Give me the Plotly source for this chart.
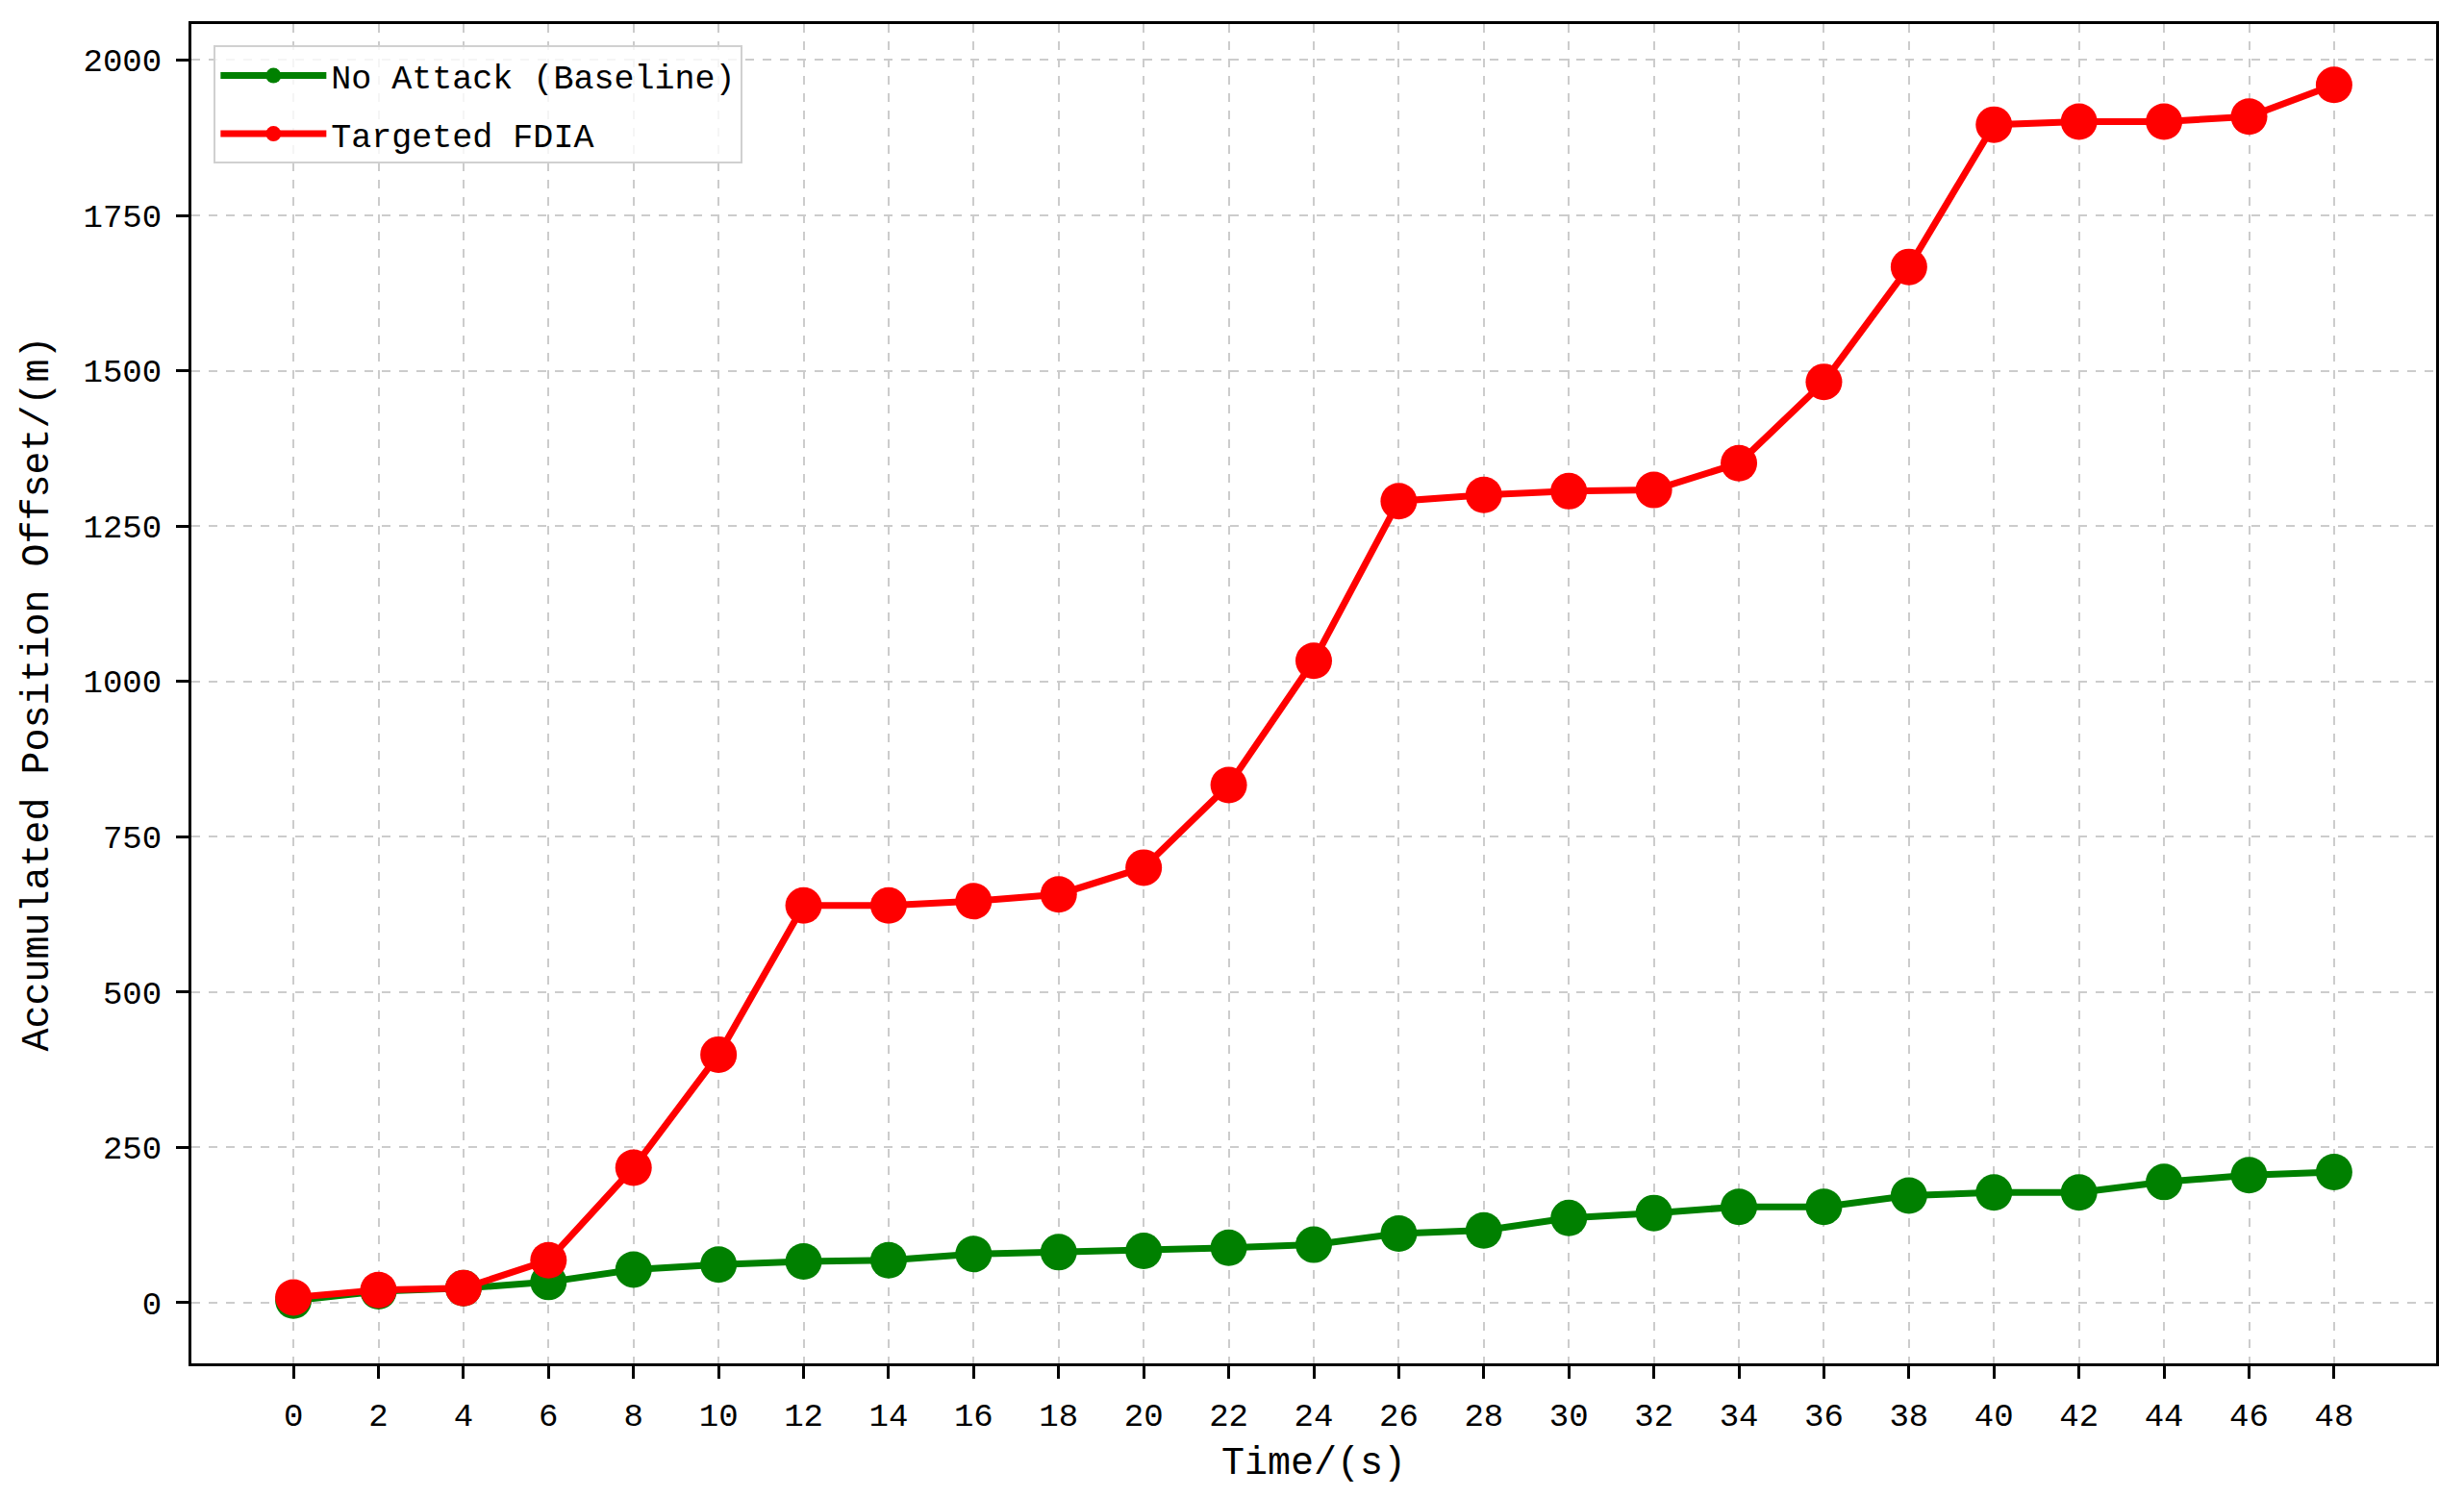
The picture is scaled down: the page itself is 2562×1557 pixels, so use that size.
import plotly.graph_objects as go

# ── Data ────────────────────────────────────────────────────
time_s = [0, 2, 4, 6, 8, 10, 12, 14, 16, 18, 20, 22, 24,
          26, 28, 30, 32, 34, 36, 38, 40, 42, 44, 46, 48]

no_attack = [3, 18, 23, 33, 53, 61, 66, 68, 78, 81, 83, 88, 93,
             111, 116, 136, 144, 154, 154, 172, 177, 177, 194, 205, 210]

targeted_fdia = [8, 20, 23, 68, 217, 399, 639, 639, 646, 657, 700, 833, 1033,
                 1290, 1300, 1306, 1308, 1351, 1482, 1667, 1896, 1901, 1901, 1909, 1960]

y_ticks = [0, 250, 500, 750, 1000, 1250, 1500, 1750, 2000]

FONT = "Liberation Mono"

fig = go.Figure()

series = [
    ("No Attack (Baseline)", no_attack, "#008000"),
    ("Targeted FDIA", targeted_fdia, "#ff0000"),
]
for name, values, color in series:
    fig.add_trace(go.Scatter(
        x=time_s,
        y=values,
        name=name,
        legendgroup=name,
        mode="lines+markers",
        line=dict(color=color, width=7),
        marker=dict(color=color, size=38),
    ))

axis_common = dict(
    showline=True,
    linecolor="black",
    linewidth=3,
    mirror=True,
    ticks="outside",
    ticklen=13,
    tickwidth=3,
    tickcolor="black",
    showgrid=True,
    gridcolor="#cccccc",
    gridwidth=2,
    griddash="dash",
    zeroline=False,
    tickfont=dict(family=FONT, size=34, color="black"),
    ticklabelstandoff=8,
)

fig.update_xaxes(
    **axis_common,
    range=[-2.4, 50.4],
    tickmode="array",
    tickvals=time_s,
    title=dict(text="Time/(s)", font=dict(family=FONT, size=40, color="black"), standoff=14),
)
fig.update_yaxes(
    **axis_common,
    range=[-98, 2058],
    tickmode="array",
    tickvals=y_ticks,
    title=dict(text="Accumulated Position Offset/(m)",
               font=dict(family=FONT, size=40, color="black"), standoff=24),
)

# page body adds an 8px margin, so the figure is sized to fit inside it
fig.update_layout(
    width=2554,
    height=1549,
    paper_bgcolor="white",
    plot_bgcolor="white",
    margin=dict(l=191, r=29, t=17, b=139, autoexpand=False),
    showlegend=True,
    legend=dict(
        x=0.01,
        y=0.984,
        xanchor="left",
        yanchor="top",
        bgcolor="rgba(255,255,255,0.8)",
        bordercolor="#d0d0d0",
        borderwidth=2,
        font=dict(family=FONT, size=35, color="black"),
        tracegroupgap=12,
        itemwidth=110,
    ),
)

fig.write_html("out.html")
